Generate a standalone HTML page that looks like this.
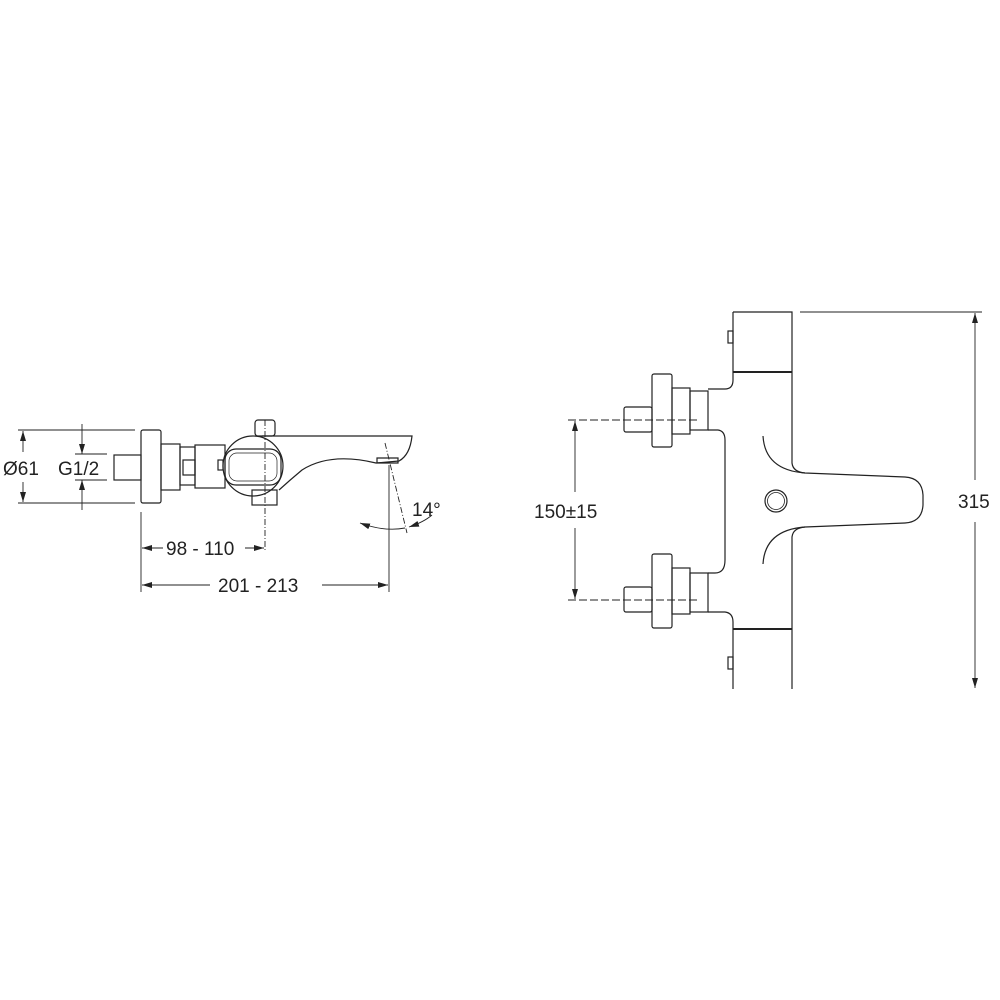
<!DOCTYPE html><html><head><style>body{margin:0;background:#fff}svg{display:block}text{font-family:"Liberation Sans",sans-serif;fill:#222;stroke:none}</style></head><body>
<svg width="1000" height="1000" viewBox="0 0 1000 1000" fill="none" stroke="#222" stroke-width="1.2">
<defs><marker id="a" viewBox="0 0 10 6" refX="10" refY="3" markerWidth="10" markerHeight="6" orient="auto-start-reverse" markerUnits="userSpaceOnUse"><path d="M0,0L10,3L0,6z" fill="#222" stroke="none"/></marker></defs>
<!-- LEFT VIEW -->
<g stroke-width="0.9">
<line x1="18" y1="430" x2="135" y2="430"/><line x1="18" y1="503" x2="135" y2="503"/>
<line x1="23" y1="452" x2="23" y2="431" marker-end="url(#a)"/>
<line x1="23" y1="482" x2="23" y2="502" marker-end="url(#a)"/>
<line x1="75" y1="454" x2="107" y2="454"/><line x1="75" y1="480" x2="107" y2="480"/>
<line x1="82" y1="424" x2="82" y2="454" marker-end="url(#a)"/>
<line x1="82" y1="510" x2="82" y2="480" marker-end="url(#a)"/>
<line x1="141" y1="512" x2="141" y2="592"/><line x1="389" y1="465" x2="389" y2="592"/>
<line x1="142" y1="548" x2="163" y2="548" marker-start="url(#a)"/>
<line x1="245" y1="548" x2="264" y2="548" marker-end="url(#a)"/>
<line x1="142" y1="585" x2="210" y2="585" marker-start="url(#a)"/>
<line x1="322" y1="585" x2="388" y2="585" marker-end="url(#a)"/>
<line x1="265" y1="420" x2="265" y2="552" stroke-dasharray="6,2,1,2"/>
<line x1="385" y1="443" x2="407" y2="533" stroke-dasharray="6,2,1,2"/>
<path d="M360 523 Q385 532 405 528" marker-start="url(#a)"/>
<path d="M409 527 Q424 522 432 515" marker-start="url(#a)"/>
</g>
<text x="3" y="475" font-size="19">Ø61</text>
<text x="58" y="475" font-size="19">G1/2</text>
<text x="166" y="555" font-size="19">98 - 110</text>
<text x="218" y="592" font-size="19">201 - 213</text>
<text x="412" y="516" font-size="19">14°</text>
<rect x="114" y="455" width="27" height="25"/>
<rect x="141" y="430" width="20" height="73" rx="2"/>
<rect x="161" y="444" width="19" height="46"/>
<rect x="180" y="447" width="15" height="38"/>
<rect x="183" y="460" width="12" height="15"/>
<rect x="195" y="445" width="30" height="43"/>
<rect x="218" y="460" width="5" height="10"/>
<rect x="255" y="420" width="20" height="16" rx="3"/>
<rect x="252" y="490" width="25" height="15"/>
<path d="M262 436 L412 436 Q410 455 399 461 L376 463 Q330 452 302 470 Q290 480 279 490"/>
<circle cx="253" cy="466" r="30"/>
<rect x="225" y="449" width="56" height="36" rx="11"/>
<rect x="229" y="453" width="48" height="28" rx="8" stroke-width="0.7"/>
<path d="M377 458 L398 458 L398 463 L377 463z"/>
<!-- RIGHT VIEW -->
<g stroke-width="0.9">
<line x1="800" y1="312" x2="982" y2="312"/>
<line x1="975" y1="313" x2="975" y2="480" marker-start="url(#a)"/>
<line x1="975" y1="522" x2="975" y2="688" marker-end="url(#a)"/>
<line x1="568" y1="420" x2="700" y2="420" stroke-dasharray="8,3"/>
<line x1="568" y1="600" x2="700" y2="600" stroke-dasharray="8,3"/>
<line x1="575" y1="421" x2="575" y2="492" marker-start="url(#a)"/>
<line x1="575" y1="528" x2="575" y2="599" marker-end="url(#a)"/>
</g>
<text x="958" y="508" font-size="19">315</text>
<text x="534" y="518" font-size="19">150±15</text>
<path d="M733 312 L792 312 L792 463 Q793 472 805 473 L905 477 Q922 478 923 495 L923 505 Q922 522 905 523 L805 527 Q793 528 792 537 L792 689"/>
<path d="M733 312 L733 380 Q733 389 725 389 L708 389 M708 430 L718 430 Q725 431 725 440 L725 560 Q725 573 715 573 L708 573 M708 612 L725 612 Q733 613 733 622 L733 689"/>
<line x1="733" y1="372" x2="792" y2="372" stroke-width="2"/>
<line x1="733" y1="629" x2="792" y2="629" stroke-width="2"/>
<rect x="728" y="331" width="5" height="12"/><rect x="728" y="657" width="5" height="12"/>
<path d="M763 436 Q765 470 805 473"/><path d="M763 564 Q765 530 805 527"/>
<circle cx="776" cy="501" r="11"/><circle cx="776" cy="501" r="8.5" stroke-width="0.8"/>
<g>
<rect x="652" y="374" width="20" height="73" rx="2"/><rect x="672" y="388" width="18" height="46"/><rect x="690" y="391" width="18" height="39"/><rect x="624" y="407" width="28" height="25" rx="2"/>
<rect x="652" y="554" width="20" height="74" rx="2"/><rect x="672" y="568" width="18" height="46"/><rect x="690" y="573" width="18" height="39"/><rect x="624" y="587" width="28" height="25" rx="2"/>
</g>
</svg></body></html>
